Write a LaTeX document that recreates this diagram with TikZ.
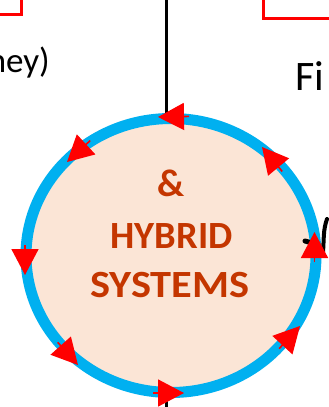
\documentclass[tikz,border=0pt]{standalone}
\usepackage{fontspec}
\setmainfont{Carlito}
\usetikzlibrary{shapes.geometric,arrows.meta}
\definecolor{ringblue}{HTML}{00B0F0}
\definecolor{peach}{HTML}{FBE5D6}
\definecolor{rust}{HTML}{C43600}
\definecolor{alertred}{HTML}{FF0000}
\begin{document}
\begin{tikzpicture}[x=1pt,y=-1pt,
  frame/.style={draw=alertred, line width=3.3pt},
  ring/.style={ellipse, draw=ringblue, line width=11pt, fill=peach,
    minimum width=290pt, minimum height=274pt, inner sep=0pt},
  title/.style={text=rust, font=\fontsize{38.5}{44}\selectfont\bfseries,
    anchor=base, inner sep=0pt},
  note/.style={font=\fontsize{35}{42}\selectfont, inner sep=0pt},
  flow/.style={draw=alertred, line width=1.6pt,
    -{Triangle[length=26pt,width=27pt]}}]
\clip (0,0) rectangle (329,407);
\fill[white] (0,0) rectangle (329,407);

% partial red frames at the top corners
\draw[frame] (-20,-20) rectangle (21.5,14.3);
\draw[frame] (263.3,18.3) rectangle (360,-20);

% vertical wire through the cycle
\coordinate (wireTop) at (166.5,-2);
\coordinate (wireBot) at (166.5,410);
\draw[line width=3pt] (wireTop) -- (wireBot);

% the cycle
\node[ring] (cycle) at (171,255.5) {};
\node[title] (amp) at (171,196.5) {\&};
\node[title] (hyb) at (171.5,248) {HYBRID};
\node[title] (sys) at (170,297.5) {\scalebox{1.1}[1]{SYSTEMS}};

% side texts
\node[note, anchor=base east] (ney) at (50,72) {ney)};
\node[note, anchor=base west, font=\fontsize{42}{48}\selectfont] (fi) at (295,90) {Fi};

% black stroke at the right edge
\draw[line width=4pt, line cap=round] (327,219) .. controls (323,230) and (324,240) .. (323,252);
\draw[line width=5pt, line cap=round] (305,241) -- (312,243);

% counter-clockwise arrows around the ring
\coordinate (s1) at (189,116.4);  \coordinate (t1) at (158,117);
\coordinate (s2) at (90.2,140.6); \coordinate (t2) at (67,162);
\coordinate (s3) at (25,245);     \coordinate (t3) at (25,275);
\coordinate (s4) at (57.7,342.3); \coordinate (t4) at (78,365);
\coordinate (s5) at (153,393);    \coordinate (t5) at (184,393);
\coordinate (s6) at (279.1,348.7);\coordinate (t6) at (300,326);
\coordinate (s7) at (314.5,262);  \coordinate (t7) at (314.5,232);
\coordinate (s8) at (282.2,171.4);\coordinate (t8) at (262,147);
\foreach \i in {1,...,8} {\draw[flow] (s\i) -- (t\i);}
\end{tikzpicture}
\end{document}
